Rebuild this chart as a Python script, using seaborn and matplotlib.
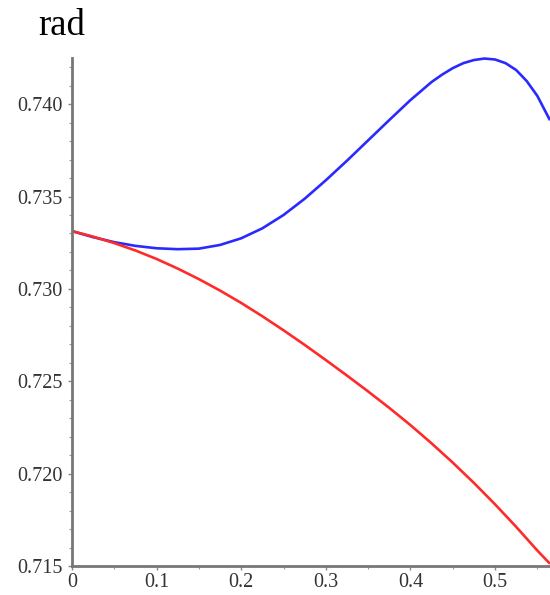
import numpy as np
import pandas as pd
import matplotlib
matplotlib.use("Agg")
import matplotlib.pyplot as plt
import seaborn as sns
from matplotlib.ticker import MultipleLocator, FormatStrFormatter

# Parameter values along the horizontal axis (upper branch)
x_blue = [0.0, 0.025, 0.05, 0.075, 0.1, 0.125, 0.15, 0.175, 0.2, 0.225, 0.25,
          0.275, 0.3, 0.325, 0.35, 0.375, 0.4, 0.425, 0.4375, 0.45, 0.4625,
          0.475, 0.4875, 0.5, 0.5125, 0.525, 0.5375, 0.55, 0.565]

# Upper (blue) branch
blue_vals = [0.73313, 0.73280, 0.73253, 0.73233, 0.73220, 0.73215, 0.73218,
             0.73238, 0.73274, 0.73328, 0.73400, 0.73488, 0.73588, 0.73694,
             0.73804, 0.73914, 0.74022, 0.74120, 0.74160, 0.74195, 0.74222,
             0.74239, 0.74247, 0.74242, 0.74222, 0.74185, 0.74125, 0.74045,
             0.73913]

# Parameter values along the horizontal axis (lower branch)
x_red = [0.0, 0.025, 0.05, 0.075, 0.1, 0.125, 0.15, 0.175, 0.2, 0.225, 0.25,
         0.275, 0.3, 0.325, 0.35, 0.375, 0.4, 0.425, 0.45, 0.475, 0.5, 0.525,
         0.55, 0.565]

# Lower (red) branch
red_vals = [0.73313, 0.73283, 0.73248, 0.73208, 0.73162, 0.73110, 0.73053,
            0.72991, 0.72924, 0.72852, 0.72776, 0.72697, 0.72615, 0.72531,
            0.72445, 0.72356, 0.72263, 0.72164, 0.72060, 0.71950, 0.71834,
            0.71712, 0.71584, 0.71512]

x_ticks = [0, 0.1, 0.2, 0.3, 0.4, 0.5]
y_ticks = [0.715, 0.720, 0.725, 0.730, 0.735, 0.740]

df = pd.DataFrame({
    "x": x_blue + x_red,
    "rad": blue_vals + red_vals,
    "branch": ["upper"] * len(x_blue) + ["lower"] * len(x_red),
})

sns.set_style("ticks")
plt.rcParams["font.family"] = ["Liberation Serif", "DejaVu Serif"]

fig = plt.figure(figsize=(5.5, 5.95), dpi=100)
ax = fig.add_axes([72 / 550, 1 - 566 / 595, 1 - 72 / 550, (566 - 58) / 595])

sns.lineplot(data=df, x="x", y="rad", hue="branch",
             palette={"upper": "#2a2aff", "lower": "#ff2a2a"},
             linewidth=1.9, legend=False, ax=ax, sort=True)
for line in ax.lines:
    line.set_clip_on(False)
    line.set_solid_joinstyle("round")
    line.set_solid_capstyle("butt")

ax.set_xlim(0, 0.565)
ax.set_ylim(0.715, 0.7425)
ax.set_xticks(x_ticks)
ax.set_yticks(y_ticks)
ax.xaxis.set_minor_locator(MultipleLocator(0.05))
ax.yaxis.set_minor_locator(MultipleLocator(0.001))
ax.xaxis.set_major_formatter(lambda v, p: "0" if v == 0 else f"{v:.1f}")
ax.yaxis.set_major_formatter(FormatStrFormatter("%.3f"))
ax.set_xlabel("")
ax.set_ylabel("")

for side in ("top", "right"):
    ax.spines[side].set_visible(False)
for side in ("left", "bottom"):
    ax.spines[side].set_color("#777777")
    ax.spines[side].set_linewidth(2.0)

ax.tick_params(axis="both", which="major", length=3, width=1, color="#888888",
               labelsize=14.5, labelcolor="#333333")
ax.tick_params(axis="y", which="major", pad=4)
ax.tick_params(axis="x", which="major", pad=2)
ax.tick_params(axis="both", which="minor", length=2.5, width=0.8, color="#999999")

fig.text(38 / 550, 1 - 35 / 595, "rad", fontsize=26.5, color="black",
         ha="left", va="baseline")

fig.savefig("out.png", dpi=100)
